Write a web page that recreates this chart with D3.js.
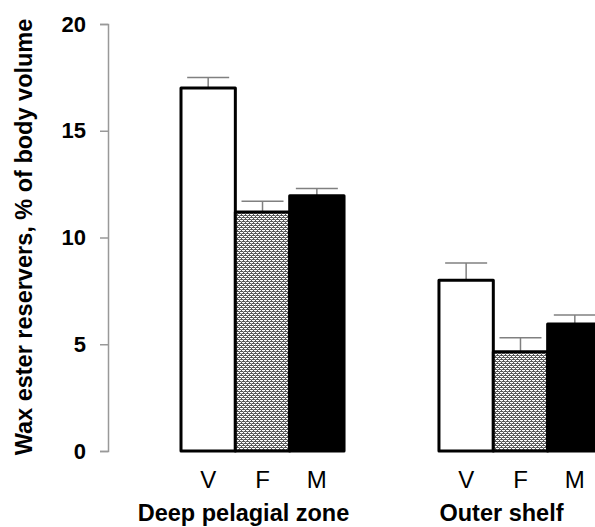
<!DOCTYPE html>
<html lang="en">
<head>
<meta charset="UTF-8">
<title>Wax ester reservers</title>
<script src="https://d3js.org/d3.v7.min.js"></script>
<style>
  body { margin: 0; background: #fff; }
  text { font-family: Arial, "Liberation Sans", sans-serif; }
</style>
</head>
<body>
<svg width="595" height="527"></svg>
<script>
// values
const groups = ['Deep pelagial zone', 'Outer shelf'];
const stages = ['V', 'F', 'M'];
const deepMeans = [17.0, 11.2, 11.95];
const deepErr = [0.5, 0.5, 0.35];
const shelfMeans = [8.0, 4.65, 5.95];
const shelfErr = [0.8, 0.65, 0.42];
const yTicks = [0, 5, 10, 15, 20];

const data = [];
stages.forEach((s, i) => {
    data.push({group: groups[0], stage: s, mean: deepMeans[i], err: deepErr[i]});
    data.push({group: groups[1], stage: s, mean: shelfMeans[i], err: shelfErr[i]});
});

const fills = {V: '#fff', F: 'url(#dots)', M: '#000'};

const svg = d3.select('svg');

// speckled fill used for the F bars
const pat = svg.append('defs').append('pattern')
    .attr('id', 'dots')
    .attr('patternUnits', 'userSpaceOnUse')
    .attr('width', 4).attr('height', 4);
pat.append('rect').attr('width', 4).attr('height', 4).attr('fill', '#555');
pat.append('rect').attr('x', 0).attr('y', 0).attr('width', 3).attr('height', 1).attr('fill', '#fff');
pat.append('rect').attr('x', 2).attr('y', 2).attr('width', 2).attr('height', 1).attr('fill', '#fff');
pat.append('rect').attr('x', 0).attr('y', 2).attr('width', 1).attr('height', 1).attr('fill', '#fff');
pat.append('rect').attr('x', 1).attr('y', 1).attr('width', 1).attr('height', 1).attr('fill', '#aaa');
pat.append('rect').attr('x', 3).attr('y', 3).attr('width', 1).attr('height', 1).attr('fill', '#aaa');

const y = d3.scaleLinear().domain([0, 20]).range([451, 24]);

const x0 = d3.scaleBand().domain(groups).range([181, 602]).paddingInner(0.368);
const x1 = d3.scaleBand().domain(stages).range([0, x0.bandwidth()]);

// y axis
const yAxis = svg.append('g')
    .attr('transform', 'translate(108,0)')
    .call(d3.axisLeft(y).tickValues(yTicks).tickSize(8).tickPadding(14));
yAxis.select('.domain').attr('stroke', '#999').attr('stroke-width', 1.5);
yAxis.selectAll('.tick line').attr('stroke', '#999').attr('stroke-width', 1.5);
yAxis.selectAll('.tick text')
    .attr('font-family', 'Arial, "Liberation Sans", sans-serif')
    .attr('font-size', 22).attr('font-weight', 'bold').attr('fill', '#000');

svg.append('text')
    .attr('transform', 'translate(32,237) rotate(-90)')
    .attr('text-anchor', 'middle')
    .attr('font-size', 23.5).attr('font-weight', 'bold')
    .text('Wax ester reservers, % of body volume');

// error bars (drawn first, bars cover the base)
const eb = svg.append('g').attr('stroke', '#808080').attr('stroke-width', 1.5);
data.forEach(d => {
    const cx = x0(d.group) + x1(d.stage) + x1.bandwidth() / 2;
    eb.append('line')
        .attr('x1', cx).attr('x2', cx)
        .attr('y1', y(d.mean)).attr('y2', y(d.mean + d.err));
    eb.append('line')
        .attr('x1', cx - 21).attr('x2', cx + 21)
        .attr('y1', y(d.mean + d.err)).attr('y2', y(d.mean + d.err));
});

// bars
svg.append('g').selectAll('rect')
    .data(data)
    .enter().append('rect')
    .attr('x', d => x0(d.group) + x1(d.stage))
    .attr('y', d => y(d.mean))
    .attr('width', x1.bandwidth())
    .attr('height', d => y(0) - y(d.mean))
    .attr('fill', d => fills[d.stage])
    .attr('stroke', '#000')
    .attr('stroke-width', 3)
    .attr('stroke-linejoin', 'round');

// stage letters
svg.append('g').selectAll('text')
    .data(data)
    .enter().append('text')
    .attr('x', d => x0(d.group) + x1(d.stage) + x1.bandwidth() / 2)
    .attr('y', 488)
    .attr('text-anchor', 'middle')
    .attr('font-size', 24)
    .text(d => d.stage);

// group labels
svg.append('g').selectAll('text')
    .data(groups)
    .enter().append('text')
    .attr('x', d => x0(d) + x0.bandwidth() / 2 - 19)
    .attr('y', 521)
    .attr('text-anchor', 'middle')
    .attr('font-size', 23.5).attr('font-weight', 'bold')
    .text(d => d);
</script>
</body>
</html>
